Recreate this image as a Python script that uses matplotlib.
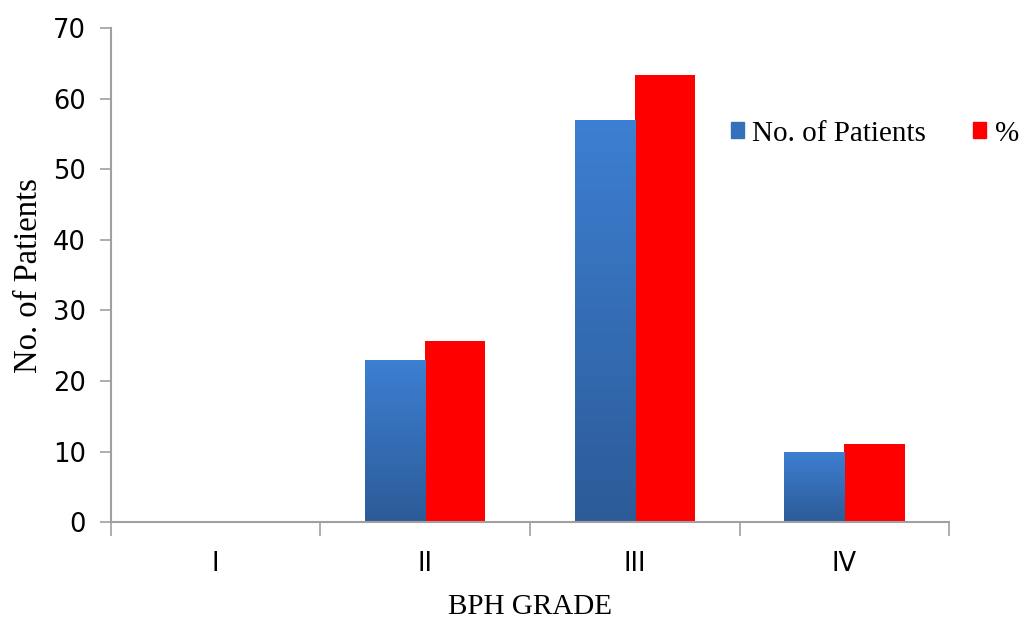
import matplotlib
matplotlib.use("Agg")
import matplotlib.pyplot as plt
import matplotlib.patches as mpatches
from matplotlib.colors import LinearSegmentedColormap
import numpy as np

grades = ["I", "II", "III", "IV"]
patients = [0, 23, 57, 10]
percent = [0, 25.6, 63.3, 11.1]
yticks = [0, 10, 20, 30, 40, 50, 60, 70]

blue_grad = LinearSegmentedColormap.from_list("bg", ["#2c5b98", "#3d7fd2"])
red = "#ff0000"
axis_gray = "#a0a0a0"

fig = plt.figure(figsize=(10.25, 6.21), dpi=100)
ax = fig.add_axes([0.108, 0.159, 0.818, 0.796])

x = np.arange(len(grades))
w = 0.287
blue_bars = ax.bar(x - w / 2, patients, w, color="none", edgecolor="none", zorder=2)
red_bars = ax.bar(x + w / 2, percent, w, color=red, edgecolor="none", zorder=2)

# vertical gradient fill for the blue bars
grad = np.linspace(0, 1, 256).reshape(-1, 1)
for b in blue_bars:
    if b.get_height() <= 0:
        continue
    x0, y0 = b.get_x(), b.get_y()
    im = ax.imshow(grad, cmap=blue_grad, origin="lower", aspect="auto",
                   extent=[x0, x0 + b.get_width(), y0, y0 + b.get_height()],
                   zorder=2)
    im.set_clip_path(b)

ax.set_xlim(-0.5, len(grades) - 0.5)
ax.set_ylim(0, 70)
ax.set_yticks(yticks)
ax.set_yticklabels([str(t) for t in yticks], fontsize=18.5, family="DejaVu Sans")

# category ticks sit between groups, labels at group centers
ax.set_xticks(np.arange(-0.5, len(grades)), minor=False)
ax.set_xticklabels([])
ax.set_xticks(x, minor=True)
ax.set_xticklabels(grades, minor=True, fontsize=18.5, family="DejaVu Sans")
ax.tick_params(axis="x", which="major", length=10, width=1.2, color=axis_gray, direction="out")
ax.tick_params(axis="x", which="minor", length=0, pad=21)
ax.tick_params(axis="y", length=8, width=1.2, color=axis_gray, pad=10)

for side in ["top", "right"]:
    ax.spines[side].set_visible(False)
for side in ["left", "bottom"]:
    ax.spines[side].set_color(axis_gray)
    ax.spines[side].set_linewidth(1.5)

ax.set_xlabel("BPH GRADE", family="Liberation Serif", fontsize=21, labelpad=12)
ax.set_ylabel("No. of Patients", family="Liberation Serif", fontsize=23.5, labelpad=6)

handles = [mpatches.Patch(color="#3570bd", label="No. of Patients"),
           mpatches.Patch(color=red, label="%")]
fig.legend(handles=handles, loc="center right", bbox_to_anchor=(1.0, 0.785),
           ncol=2, frameon=False, handlelength=0.45, handleheight=0.45,
           handletextpad=0.3, columnspacing=1.6, borderpad=0.1, borderaxespad=0.1,
           prop={"family": "Liberation Serif", "size": 21})

fig.savefig("out.png", dpi=100)
